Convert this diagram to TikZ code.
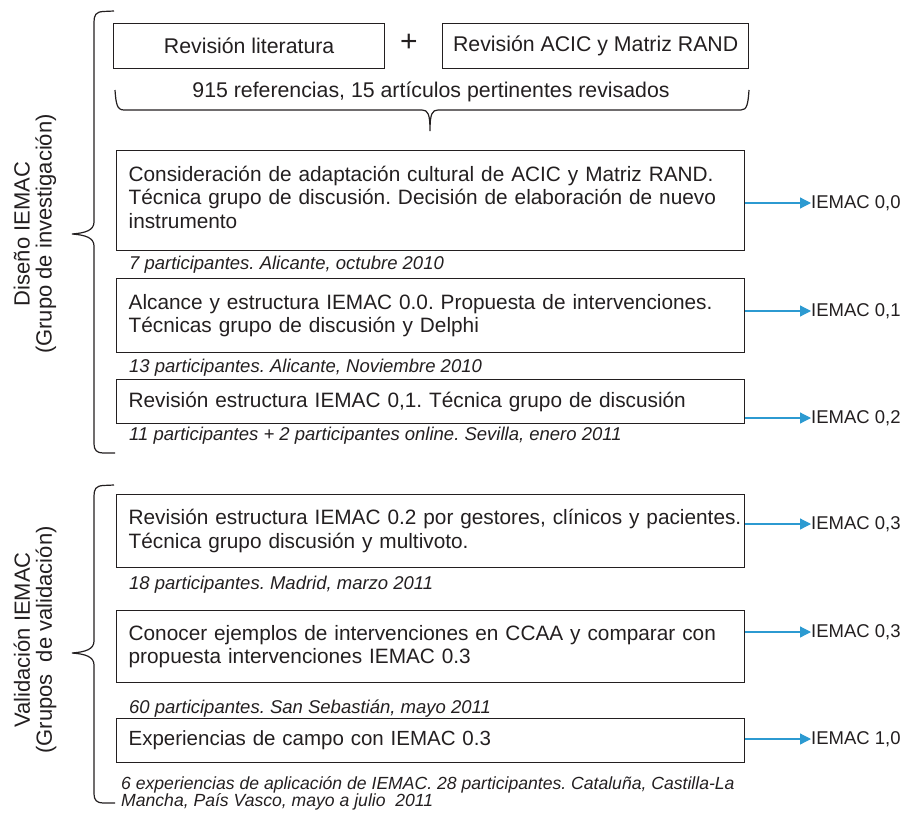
\documentclass[tikz,border=0pt]{standalone}
\usepackage{fontspec}
\setmainfont{Liberation Sans}
\usetikzlibrary{arrows.meta,calc}
\definecolor{ink}{HTML}{231F20}
\definecolor{arrblue}{HTML}{2C9AD1}
\frenchspacing
\begin{document}
\frenchspacing
\begin{tikzpicture}[x=1pt,y=-1pt,
  every node/.style={text=ink},
  box/.style={draw=ink, line width=1.3pt, rectangle, anchor=north west, inner xsep=12pt, inner ysep=0pt, text width=604pt, align=left, font=\fontsize{20.8}{23.5}\selectfont\frenchspacing},
  topbox/.style={draw=ink, line width=1.3pt, rectangle, anchor=north west, inner sep=0pt, font=\fontsize{21.3}{23.5}\selectfont},
  capt/.style={anchor=base west, inner sep=0pt, font=\fontsize{18.5}{17}\selectfont\itshape\frenchspacing},
  captsmall/.style={anchor=base west, inner sep=0pt, font=\fontsize{17.6}{17}\selectfont\itshape\frenchspacing},
  outlbl/.style={anchor=west, inner sep=0pt, font=\fontsize{18.5}{20}\selectfont},
  arr/.style={draw=arrblue, line width=1.2pt, -{Triangle[length=11pt,width=11pt]}},
  brc/.style={draw=ink, line width=1.2pt},
  sidelbl/.style={rotate=90, align=center, inner sep=0pt, font=\fontsize{22}{22}\selectfont},
  plain/.style={inner sep=0pt, font=\fontsize{21.3}{23.5}\selectfont\frenchspacing}
]
\useasboundingbox (0,0) rectangle (902,816);

% side labels
\node[sidelbl] (dis) at (35,234) {Diseño IEMAC\\(Grupo de investigación)};
\node[sidelbl] (val) at (35,640) {Validación IEMAC\\(Grupos\ \ de validación)};

% left braces
\draw[brc] (114,11) -- (103,11.5) .. controls (96,12) and (94,15) .. (94,22) -- (94,222)
  .. controls (94,230) and (86,233) .. (72,234) .. controls (86,235) and (94,238) .. (94,246)
  -- (94,444) .. controls (94,450) and (97,453) .. (103,453) -- (115,453);
\draw[brc] (114,485) -- (103,485.5) .. controls (96,486) and (94,489) .. (94,496) -- (94,641)
  .. controls (94,649) and (86,652) .. (72,653) .. controls (86,654) and (94,657) .. (94,665)
  -- (94,794) .. controls (94,800) and (97,803) .. (103,803) -- (115,803);

% top boxes
\node[topbox, minimum width=271pt, minimum height=45pt] (lit) at (113,23) {Revisión literatura};
\node[topbox, minimum width=306pt, minimum height=45pt] (acic) at (442,23) {Revisión ACIC y Matriz RAND};
\node[inner sep=0pt, font=\fontsize{30}{30}\selectfont] (plus) at (409,43) {+};
\node[plain, anchor=base] (refs) at (431,97) {915 referencias, 15 artículos pertinentes revisados};

% horizontal brace
\draw[brc] (115,90) .. controls (116,104) and (117,110) .. (124,110) -- (422,110)
  .. controls (428,110) and (430,114) .. (430,131) .. controls (430,114) and (432,110) .. (438,110)
  -- (741,110) .. controls (747,110) and (748,104) .. (749,90);

% boxes
\node[box, minimum height=100pt] (bA) at (116,150) {\mbox{Consideración de adaptación cultural de ACIC y Matriz RAND.}\\\mbox{Técnica grupo de discusión. Decisión de elaboración de nuevo}\\instrumento\strut};
\node[box, minimum height=74pt] (bB) at (116,278) {\mbox{Alcance y estructura IEMAC 0.0. Propuesta de intervenciones.}\\\mbox{Técnicas grupo de discusión y Delphi}};
\node[box, minimum height=44pt] (bC) at (116,379) {\mbox{Revisión estructura IEMAC 0,1. Técnica grupo de discusión}};
\node[box, minimum height=73pt] (bD) at (116,494) {\mbox{Revisión estructura IEMAC 0.2 por gestores, clínicos y pacientes.}\\\mbox{Técnica grupo discusión y multivoto.}};
\node[box, minimum height=72pt] (bE) at (116,610) {\mbox{Conocer ejemplos de intervenciones en CCAA y comparar con}\\\mbox{propuesta intervenciones IEMAC 0.3}};
\node[box, minimum height=44pt, font=\fontsize{20.5}{23.5}\selectfont] (bF) at (116,718) {\mbox{Experiencias de campo con IEMAC 0.3}};

% captions
\node[capt] (cA) at (129,269) {7 participantes. Alicante, octubre 2010};
\node[capt] (cB) at (129,372) {13 participantes. Alicante, Noviembre 2010};
\node[capt] (cC) at (129,440) {11 participantes + 2 participantes online. Sevilla, enero 2011};
\node[capt] (cD) at (129,589) {18 participantes. Madrid, marzo 2011};
\node[capt] (cE) at (129,713) {60 participantes. San Sebastián, mayo 2011};
\node[captsmall] (cF1) at (121,789) {6 experiencias de aplicación de IEMAC. 28 participantes. Cataluña, Castilla-La};
\node[captsmall] (cF2) at (121,806) {Mancha, País Vasco, mayo a julio\ \ 2011};

% outputs
\node[outlbl] (oA) at (811,203) {IEMAC 0,0};
\node[outlbl] (oB) at (811,311) {IEMAC 0,1};
\node[outlbl] (oC) at (811,418) {IEMAC 0,2};
\node[outlbl] (oD) at (811,524) {IEMAC 0,3};
\node[outlbl] (oE) at (811,632) {IEMAC 0,3};
\node[outlbl] (oF) at (811,739) {IEMAC 1,0};

\draw[arr] (bA.east |- oA.west) -- (oA.west);
\draw[arr] (bB.east |- oB.west) -- (oB.west);
\draw[arr] (bC.east |- oC.west) -- (oC.west);
\draw[arr] (bD.east |- oD.west) -- (oD.west);
\draw[arr] (bE.east |- oE.west) -- (oE.west);
\draw[arr] (bF.east |- oF.west) -- (oF.west);
\end{tikzpicture}
\end{document}
